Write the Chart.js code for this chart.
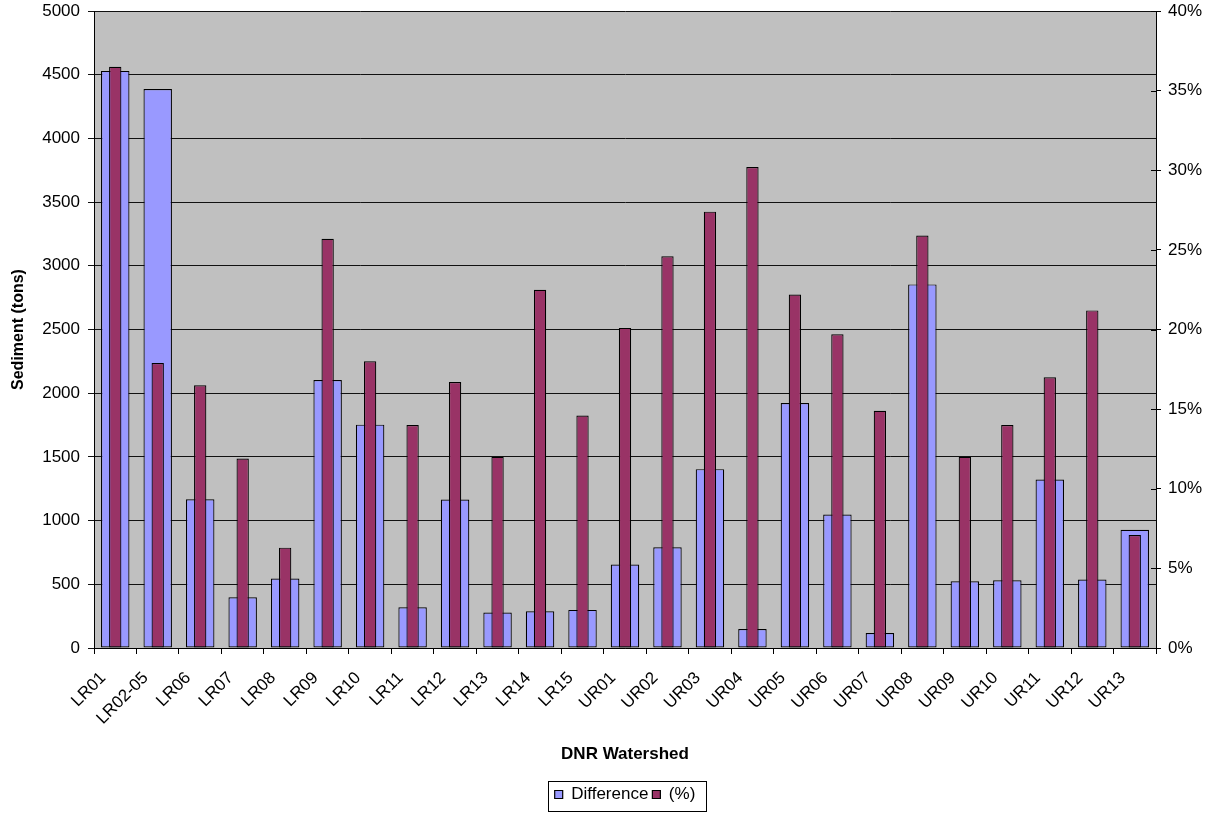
<!DOCTYPE html>
<html>
<head>
<meta charset="utf-8">
<script src="https://cdn.jsdelivr.net/npm/chart.js@4.4.1/dist/chart.umd.min.js"></script>
<style>
  html, body { margin: 0; padding: 0; background: #fff; }
  #wrap { width: 1214px; height: 813px; }
</style>
</head>
<body>
<div id="wrap"><canvas id="c" width="1214" height="813"></canvas></div>
<script>
const categories = ['LR01','LR02-05','LR06','LR07','LR08','LR09','LR10','LR11','LR12','LR13','LR14','LR15','UR01','UR02','UR03','UR04','UR05','UR06','UR07','UR08','UR09','UR10','UR11','UR12','UR13'];
const difference = [4530, 4387, 1168, 398, 545, 2104, 1753, 319, 1166, 278, 288, 299, 655, 791, 1404, 149, 1923, 1048, 118, 2854, 524, 531, 1323, 537, 928];
const percent = [36.5, 17.9, 16.5, 11.9, 6.3, 25.7, 18.0, 14.0, 16.7, 12.0, 22.5, 14.6, 20.1, 24.6, 27.4, 30.2, 22.2, 19.7, 14.9, 25.9, 12.0, 14.0, 17.0, 21.2, 7.1];

const FONT = "Arial, 'Liberation Sans', sans-serif";
Chart.defaults.font.family = FONT;
Chart.defaults.color = '#000';

const plotBg = {
  id: 'plotBg',
  beforeDraw(chart) {
    const a = chart.chartArea, ctx = chart.ctx;
    ctx.save();
    ctx.fillStyle = '#C0C0C0';
    ctx.fillRect(a.left, a.top, a.right - a.left, a.bottom - a.top);
    ctx.restore();
  }
};

const extras = {
  id: 'extras',
  afterDraw(chart) {
    const ctx = chart.ctx, a = chart.chartArea;
    const y1 = chart.scales.y1;
    ctx.save();
    ctx.strokeStyle = '#000';
    ctx.lineWidth = 1;
    y1.ticks.forEach(t => {
      const y = Math.round(y1.getPixelForValue(t.value)) + 0.5;
      ctx.beginPath();
      ctx.moveTo(a.right - 5, y);
      ctx.lineTo(a.right, y);
      ctx.stroke();
    });
    const boxes = chart.legend.legendHitBoxes;
    if (boxes && boxes.length) {
      let l = Infinity, r = -Infinity, c = 0;
      boxes.forEach(h => {
        l = Math.min(l, h.left); r = Math.max(r, h.left + h.width);
        c += h.top + h.height / 2;
      });
      c /= boxes.length;
      ctx.strokeRect(Math.round(l - 7) + 0.5, Math.round(c - 14) + 0.5, Math.round(r - l + 17), 30);
    }
    ctx.restore();
  }
};

const noVPad = s => { s.paddingTop = 0; s.paddingBottom = 0; };

new Chart(document.getElementById('c'), {
  type: 'bar',
  data: {
    labels: categories,
    datasets: [
      {
        label: 'Difference',
        data: difference,
        backgroundColor: '#9999FF',
        borderColor: '#000',
        borderWidth: 1.2,
        borderSkipped: false,
        yAxisID: 'y',
        grouped: false,
        categoryPercentage: 1,
        barPercentage: 0.67,
        order: 2
      },
      {
        label: '(%)',
        data: percent,
        backgroundColor: '#993366',
        borderColor: '#000',
        borderWidth: 1.2,
        borderSkipped: false,
        yAxisID: 'y1',
        grouped: false,
        categoryPercentage: 1,
        barPercentage: 0.29,
        order: 1
      }
    ]
  },
  options: {
    responsive: false,
    animation: false,
    layout: { padding: { top: 11, left: 0, right: 0, bottom: 0 } },
    plugins: {
      tooltip: { enabled: false },
      legend: {
        position: 'bottom',
        fullSize: false,
        labels: {
          boxWidth: 8,
          boxHeight: 8,
          padding: 4,
          font: { size: 17 },
          color: '#000',
          sort: (a, b) => a.datasetIndex - b.datasetIndex
        }
      }
    },
    scales: {
      x: {
        offset: true,
        grid: { offset: true, drawOnChartArea: false, drawTicks: true, tickLength: 6, color: '#000' },
        border: { color: '#000' },
        ticks: { autoSkip: false, maxRotation: 45, minRotation: 45, font: { size: 17 }, color: '#000', padding: 14, labelOffset: -12 },
        title: { display: true, text: 'DNR Watershed', font: { size: 17, weight: 'bold' }, color: '#000', padding: { top: 4, bottom: 17 } },
        afterFit: s => { s.height = 134; }
      },
      y: {
        position: 'left',
        min: 0, max: 5000,
        ticks: { stepSize: 500, font: { size: 17 }, color: '#000', padding: 8, callback: v => String(v) },
        grid: { color: '#111', tickLength: 6 },
        border: { color: '#000' },
        title: { display: true, text: 'Sediment (tons)', font: { size: 16, weight: 'bold' }, color: '#000', padding: { top: 9, bottom: 0 } },
        afterFit: s => { s.width = 94; noVPad(s); }
      },
      y1: {
        position: 'right',
        min: 0, max: 40,
        ticks: { stepSize: 5, font: { size: 17 }, color: '#000', padding: 7, callback: v => v + '%' },
        grid: { drawOnChartArea: false, tickLength: 5, color: '#000' },
        border: { color: '#000' },
        afterFit: s => { s.width = 58; noVPad(s); }
      }
    }
  },
  plugins: [plotBg, extras]
});
</script>
</body>
</html>
